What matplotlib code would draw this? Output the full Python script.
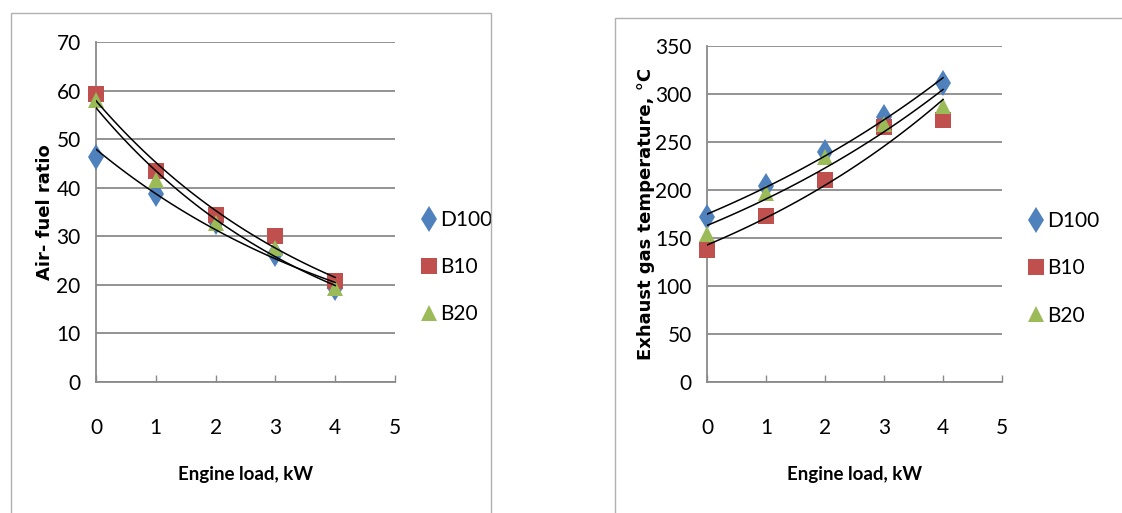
import numpy as np
import matplotlib
matplotlib.use("Agg")
import matplotlib.pyplot as plt
from matplotlib.patches import Rectangle

# engine load, kW
load = [0, 1, 2, 3, 4]

# air-fuel ratio
afr_d100 = [46.3, 38.7, 33.0, 26.4, 19.4]
afr_b10 = [59.2, 43.5, 34.3, 30.0, 20.7]
afr_b20 = [58.1, 41.5, 32.8, 27.6, 19.3]

# exhaust gas temperature, deg C
egt_d100 = [172, 204, 240, 276, 311]
egt_b10 = [137, 173, 210, 266, 273]
egt_b20 = [154, 197, 234, 269, 288]

series_names = ["D100", "B10", "B20"]
colors = ["#4F81BD", "#C0504D", "#9BBB59"]
markers = ["d", "s", "^"]
msizes = [13, 12, 12]

narrow = ["Lato", "DejaVu Sans"]
grid_col = "#8a8a8a"


def exp_trend(x, y):
    # excel style exponential trendline: ln(y) = a + b*x
    b, a = np.polyfit(x, np.log(y), 1)
    xs = np.linspace(min(x), max(x), 100)
    return xs, np.exp(a + b * xs)


def draw_panel(fig, rect, data, ymax, ystep, ylabel, ylabelpad, leg_x):
    ax = fig.add_axes(rect)
    for (y, name, c, m, ms) in zip(data, series_names, colors, markers, msizes):
        ax.plot(load, y, linestyle="none", marker=m, color=c, markersize=ms,
                markeredgewidth=0, label=name, zorder=3, clip_on=False)
    for y in data:
        xs, ys = exp_trend(load, y)
        ax.plot(xs, ys, color="black", lw=1.1, zorder=4)

    ax.set_xlim(0, 5)
    ax.set_ylim(0, ymax)
    ax.set_xticks(range(0, 6))
    ax.set_yticks(np.arange(0, ymax + 1, ystep))
    ax.yaxis.grid(True, color=grid_col, lw=1.3)
    ax.set_axisbelow(True)
    for s in ["top", "right"]:
        ax.spines[s].set_visible(False)
    for s in ["left", "bottom"]:
        ax.spines[s].set_color(grid_col)
        ax.spines[s].set_linewidth(1.3)
    ax.tick_params(axis="x", direction="in", length=5, color=grid_col, width=1.0, pad=26)
    ax.tick_params(axis="y", length=0, pad=11)
    for lab in ax.get_xticklabels() + ax.get_yticklabels():
        lab.set_family(narrow)
        lab.set_fontsize(15)
    ax.set_ylabel(ylabel, fontsize=13, fontweight="bold", labelpad=ylabelpad)
    ax.set_xlabel("Engine load, kW", fontsize=13.5, fontweight="bold",
                  family=narrow, labelpad=20)

    ax.legend(loc="center left", bbox_to_anchor=(leg_x, 0.338), frameon=False,
              prop={"family": narrow, "size": 15}, handletextpad=0.05,
              labelspacing=1.3, handlelength=1.0, borderaxespad=0)
    return ax


fig = plt.figure(figsize=(11.22, 5.13), dpi=100)

fig.patches.append(Rectangle((11 / 1122, -0.05), 480 / 1122, 1.05 - 13 / 513,
                             transform=fig.transFigure, fill=False,
                             edgecolor="#b0b0b0", lw=1.0))
fig.patches.append(Rectangle((615 / 1122, -0.05), 0.5, 1.05 - 18 / 513,
                             transform=fig.transFigure, fill=False,
                             edgecolor="#b0b0b0", lw=1.0))

draw_panel(fig, [96 / 1122, 1 - 382 / 513, 299 / 1122, 340 / 513],
           [afr_d100, afr_b10, afr_b20], 70, 10, "Air- fuel ratio", 2, 1.05)
draw_panel(fig, [707 / 1122, 1 - 382 / 513, 295 / 1122, 336 / 513],
           [egt_d100, egt_b10, egt_b20], 350, 50,
           "Exhaust gas temperature, \u00b0C", 0, 1.05)

fig.savefig("out.png", dpi=100)
